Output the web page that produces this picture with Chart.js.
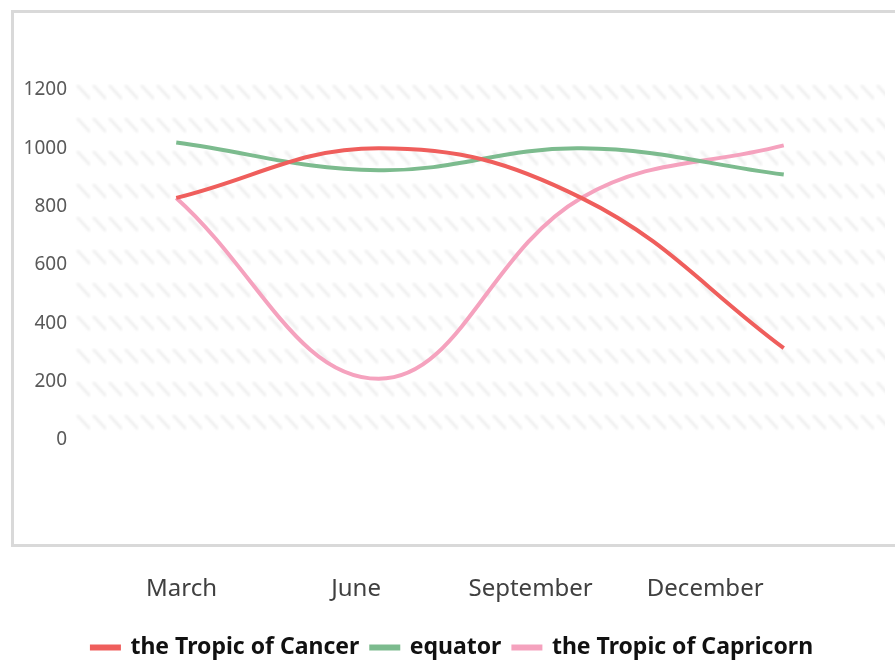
<!DOCTYPE html>
<html>
<head>
<meta charset="utf-8">
<script src="https://cdn.jsdelivr.net/npm/chart.js@4.4.1/dist/chart.umd.min.js"></script>
<style>
  body { margin: 0; background: #fff; }
  .frame {
    position: absolute; left: 11px; top: 10px; width: 900px; height: 537px;
    box-sizing: border-box; border: 3px solid #d9d9d9; border-right: none;
  }
  #chart { position: absolute; left: 0; top: 0; }
</style>
</head>
<body>
<div class="frame"></div>
<canvas id="chart" width="895" height="662"></canvas>
<script>
// months and readings
const months = ['March', 'June', 'September', 'December'];
const cancer = [830, 1000, 830, 315];
const equator = [1020, 925, 1000, 910];
const capricorn = [830, 210, 830, 1010];
const yTicks = [0, 200, 400, 600, 800, 1000, 1200];

// light diagonal hatching behind the lines
const hatch = {
  id: 'hatch',
  beforeDatasetsDraw(chart) {
    const { ctx, chartArea: a } = chart;
    const tile = document.createElement('canvas');
    tile.width = 16; tile.height = 33;
    const t = tile.getContext('2d');
    t.strokeStyle = '#efefef';
    t.lineWidth = 3;
    t.lineCap = 'round';
    t.filter = 'blur(0.8px)';
    t.beginPath();
    t.moveTo(3, 2);
    t.lineTo(14, 14);
    t.stroke();
    const pat = ctx.createPattern(tile, 'repeat');
    const top = a.top - 6;
    pat.setTransform(new DOMMatrix().translate(a.left, top));
    ctx.save();
    ctx.fillStyle = pat;
    ctx.fillRect(a.left, top, a.right - a.left, a.bottom - top);
    ctx.restore();
  }
};

const line = (label, data, color, swatch) => ({
  label, data,
  borderColor: color,
  backgroundColor: swatch,
  borderWidth: 4,
  tension: 0.4,
  pointRadius: 0,
  xAxisID: 'x',
  yAxisID: 'y'
});

new Chart(document.getElementById('chart'), {
  type: 'line',
  data: {
    labels: months,
    datasets: [
      line('the Tropic of Cancer', cancer, '#ef5e5c', '#f08a8c'),
      line('equator', equator, '#7cbb8e', '#a9d2b3'),
      line('the Tropic of Capricorn', capricorn, '#f5a2be', '#f6b5cb')
    ]
  },
  options: {
    responsive: false,
    animation: false,
    layout: { autoPadding: false, padding: { left: 20, right: 10, top: 90, bottom: -7 } },
    scales: {
      x: { type: 'category', offset: true, display: false },
      months: {
        type: 'linear', axis: 'x', position: 'bottom',
        min: -0.61, max: 4.03,
        grid: { display: false, drawTicks: false },
        border: { display: false },
        afterBuildTicks: s => { s.ticks = months.map((m, i) => ({ value: i })); },
        afterFit: s => { s.height = 184; s.paddingLeft = 0; s.paddingRight = 0; },
        ticks: {
          padding: 135,
          color: '#404040',
          font: { family: 'Noto Sans', size: 24 },
          maxRotation: 0,
          callback: v => months[v]
        }
      },
      y: {
        min: 0, max: 1200,
        afterBuildTicks: s => { s.ticks = yTicks.map(v => ({ value: v })); },
        afterFit: s => { s.width = 55; },
        grid: { display: false, drawTicks: false },
        border: { display: false },
        ticks: {
          padding: 8,
          color: '#595959',
          font: { family: 'Noto Sans', size: 19 },
          callback: v => String(v)
        }
      }
    },
    plugins: {
      tooltip: { enabled: false },
      legend: {
        position: 'bottom',
        labels: {
          boxWidth: 27,
          boxHeight: 2,
          padding: 12,
          color: '#111',
          font: { family: 'Noto Sans', size: 23, weight: 'bold' }
        }
      }
    }
  },
  plugins: [hatch]
});
</script>
</body>
</html>
